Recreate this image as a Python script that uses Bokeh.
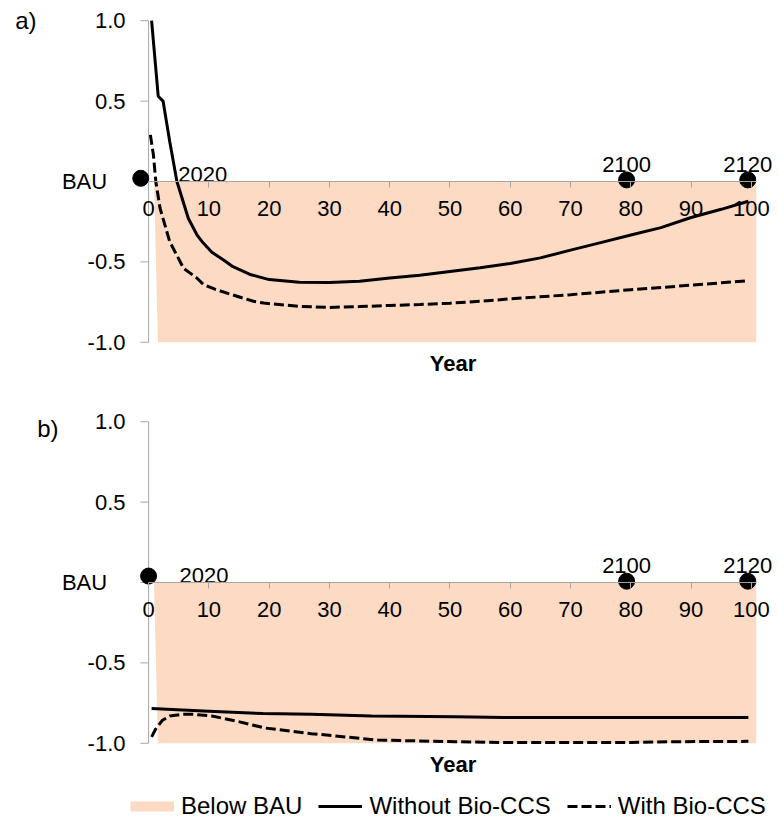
from bokeh.plotting import figure
from bokeh.models import Range1d, FixedTicker, PrintfTickFormatter, Title, Legend, LegendItem, LinearAxis
from bokeh.layouts import column
from bokeh.embed import file_html
from bokeh.resources import INLINE
from bokeh.core.properties import value

FONT = "Liberation Sans"
SHADE = "#FCDAC3"
AXIS_GRAY = "#A6A6A6"

# ---------------- data ----------------
x_ticks = [0, 10, 20, 30, 40, 50, 60, 70, 80, 90, 100]
y_ticks = [-1.0, -0.5, 0.0, 0.5, 1.0]

shade_x = [0.9, 100.8, 100.8, 1.55]
shade_y = [0.0, 0.0, -1.0, -1.0]

# panel a)
a_without_x = [0.5, 1.6, 2.4, 3.5, 4.7, 6.6, 8, 9, 10.5, 12.5, 14, 17, 20, 25, 30, 35,
               40, 45, 50, 55, 60, 65, 70, 75, 80, 85, 90, 95, 99.5]
a_without_y = [1.0, 0.53, 0.50, 0.25, 0.0, -0.23, -0.33, -0.38, -0.44, -0.49, -0.53, -0.58,
               -0.61, -0.627, -0.628, -0.62, -0.60, -0.583, -0.56, -0.537, -0.51, -0.475,
               -0.427, -0.38, -0.333, -0.287, -0.224, -0.173, -0.123]
a_with_x = [0.3, 0.8, 1.2, 1.9, 3.5, 5.8, 8, 9.1, 11, 13.5, 17.4, 19.1, 25, 30, 35, 40,
            45, 50, 55, 60, 70, 80, 90, 99.5]
a_with_y = [0.29, 0.166, 0.0, -0.166, -0.373, -0.54, -0.60, -0.64, -0.67, -0.70, -0.745,
            -0.756, -0.777, -0.783, -0.778, -0.771, -0.765, -0.757, -0.745, -0.73, -0.704,
            -0.673, -0.645, -0.617]
a_dot_x = [-1.3, 79.3, 99.4]
a_dot_y = [0.02, 0.01, 0.01]
a_year_labels = ["2020", "2100", "2120"]
a_year_x = [9.0, 79.3, 99.4]
a_year_y = [0.043, 0.106, 0.106]

# panel b)
b_without_x = [0.5, 10, 19, 27, 37, 51, 59, 70, 80, 90, 99.5]
b_without_y = [-0.784, -0.80, -0.815, -0.82, -0.83, -0.835, -0.84, -0.84, -0.84, -0.84, -0.84]
b_with_x = [0.5, 1.2, 2.3, 3.5, 5.6, 7.5, 10.5, 14.9, 19.3, 27, 38, 51, 58.8, 70, 80, 88, 99.5]
b_with_y = [-0.96, -0.91, -0.857, -0.83, -0.82, -0.82, -0.83, -0.865, -0.905, -0.94, -0.98,
            -0.99, -0.995, -0.995, -0.995, -0.99, -0.988]
b_dot_x = [0.0, 79.3, 99.4]
b_dot_y = [0.04, 0.008, 0.008]
b_year_labels = ["2020", "2100", "2120"]
b_year_x = [9.2, 79.3, 99.4]
b_year_y = [0.043, 0.106, 0.106]

panel_tags = ["a)", "b)"]
legend_labels = ["Below BAU", "Without Bio-CCS", "With Bio-CCS"]

BAU_LABEL = "BAU\u00a0\u00a0\u00a0"


def make_panel(height, top, bottom, wo_x, wo_y, wi_x, wi_y, dx, dy, lx, ly, labels,
               tag, tag_y, tag_standoff):
    p = figure(width=778, height=height, x_range=Range1d(-3, 104), y_range=Range1d(-1.02, 1.02),
               output_backend="svg", toolbar_location=None,
               min_border_left=130, min_border_right=3, min_border_top=top,
               min_border_bottom=bottom)
    p.grid.visible = False
    p.outline_line_color = None
    p.background_fill_color = None

    p.patch(shade_x, shade_y, fill_color=SHADE, line_color=None)

    # vertical axis line at x = 0 and its outward ticks
    p.segment(x0=[0], y0=[y_ticks[0]], x1=[0], y1=[y_ticks[-1]], line_color=AXIS_GRAY, line_width=1)
    p.segment(x0=[-1.35] * len(y_ticks), y0=y_ticks, x1=[0] * len(y_ticks), y1=y_ticks,
              line_color=AXIS_GRAY, line_width=1)

    p.line(wo_x, wo_y, line_color="black", line_width=3)
    p.line(wi_x, wi_y, line_color="black", line_width=3, line_dash="10 4")
    p.scatter(dx, dy, size=16, fill_color="black", line_color="black")
    p.text(lx, ly, text=labels, text_font=value(FONT), text_font_size="22px",
           text_align="center", text_baseline="alphabetic", text_color="black")

    xa = p.xaxis[0]
    xa.fixed_location = 0
    xa.bounds = (0, 100.8)
    xa.ticker = FixedTicker(ticks=x_ticks)
    xa.axis_line_color = AXIS_GRAY
    xa.major_tick_line_color = AXIS_GRAY
    xa.minor_tick_line_color = None
    xa.major_tick_in = 0
    xa.major_tick_out = 6
    xa.major_label_standoff = 13
    xa.major_label_text_font = FONT
    xa.major_label_text_font_size = "22px"
    xa.major_label_text_color = "black"

    ya = p.yaxis[0]
    ya.ticker = FixedTicker(ticks=y_ticks)
    ya.formatter = PrintfTickFormatter(format="%.1f")
    ya.major_label_overrides = {0: BAU_LABEL}
    ya.axis_line_color = None
    ya.major_tick_line_color = None
    ya.minor_tick_line_color = None
    ya.major_tick_in = 0
    ya.major_tick_out = 0
    ya.major_label_standoff = 5
    ya.major_label_text_font = FONT
    ya.major_label_text_font_size = "22px"
    ya.major_label_text_color = "black"

    # panel tag "a)" / "b)" as an outer label-only axis
    ta = LinearAxis(ticker=FixedTicker(ticks=[tag_y]), major_label_overrides={tag_y: tag},
                    axis_line_color=None, major_tick_line_color=None, minor_tick_line_color=None,
                    major_tick_in=0, major_tick_out=0, major_label_standoff=tag_standoff,
                    major_label_text_font=FONT, major_label_text_font_size="24px",
                    major_label_text_color="black")
    p.add_layout(ta, "left")

    p.add_layout(Title(text="Year", align="center", text_font=FONT, text_font_size="22px",
                       text_font_style="bold", text_color="black", standoff=6), "below")
    return p


p1 = make_panel(385, 17, 40, a_without_x, a_without_y, a_with_x, a_with_y,
                a_dot_x, a_dot_y, a_year_x, a_year_y, a_year_labels,
                panel_tags[0], 1.0, 22)
p2 = make_panel(401, 33, 40, b_without_x, b_without_y, b_with_x, b_with_y,
                b_dot_x, b_dot_y, b_year_x, b_year_y, b_year_labels,
                panel_tags[1], 0.957, 0)

# legend strip (proxy glyphs lie outside the visible range)
p3 = figure(width=778, height=34, x_range=Range1d(0, 1), y_range=Range1d(0, 1),
            output_backend="svg", toolbar_location=None,
            min_border_left=130, min_border_right=0, min_border_top=4, min_border_bottom=0)
p3.axis.visible = False
p3.grid.visible = False
p3.outline_line_color = None
proxy_x = [-2.0, -1.5]
proxy_y = [-2.0, -2.0]
g1 = p3.line(proxy_x, proxy_y, line_color=SHADE, line_width=10, line_cap="butt")
g2 = p3.line(proxy_x, proxy_y, line_color="black", line_width=3)
g3 = p3.line(proxy_x, proxy_y, line_color="black", line_width=3, line_dash="10 4")
legend = Legend(items=[LegendItem(label=legend_labels[0], renderers=[g1]),
                       LegendItem(label=legend_labels[1], renderers=[g2]),
                       LegendItem(label=legend_labels[2], renderers=[g3])],
                orientation="horizontal", location=(0, 0),
                label_text_font=FONT, label_text_font_size="24px", label_text_color="black",
                glyph_width=44, glyph_height=12, label_standoff=7, spacing=16,
                border_line_color=None, background_fill_alpha=0, padding=0, margin=0)
p3.add_layout(legend)

layout = column(p1, p2, p3, spacing=0)
open("out.html", "w").write(file_html(layout, INLINE))
